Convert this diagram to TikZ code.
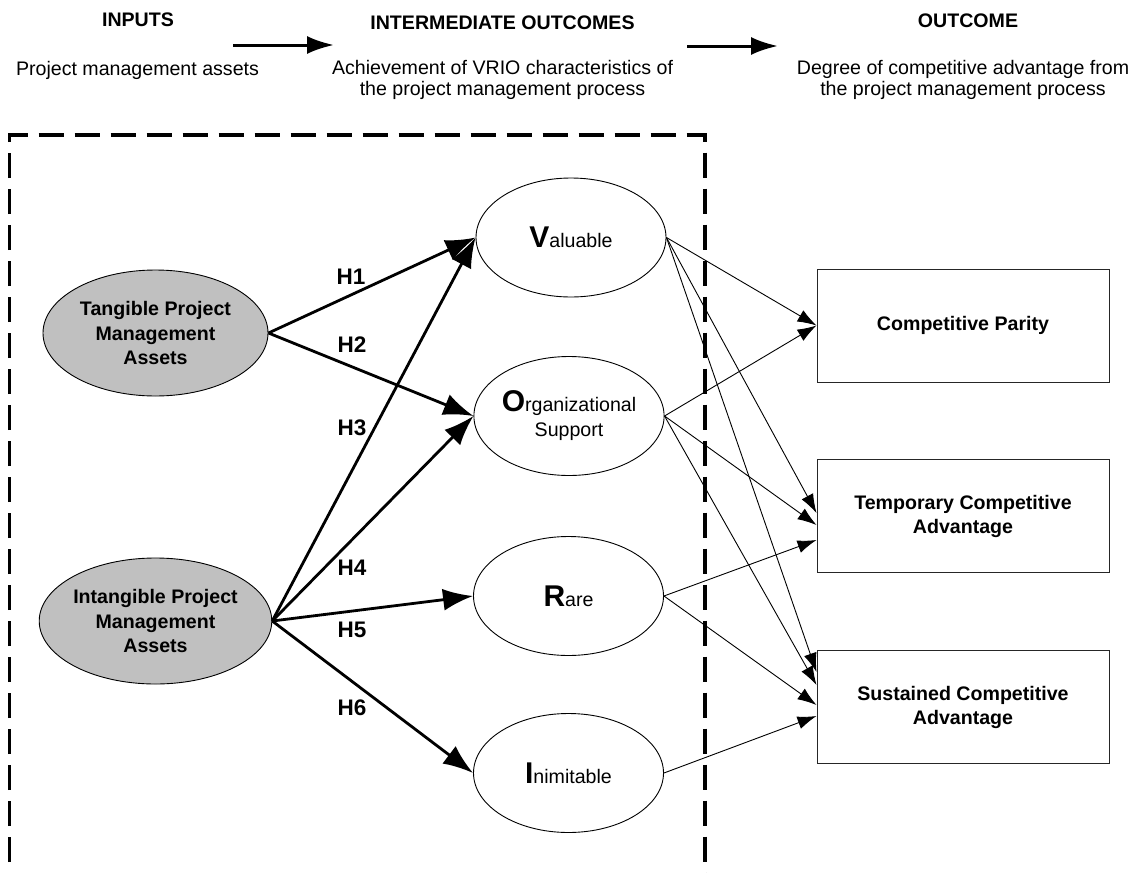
\documentclass[tikz,border=0pt]{standalone}
\usepackage{fontspec}
\setmainfont{Liberation Sans}
\usetikzlibrary{arrows.meta,shapes.geometric}
\definecolor{assetgray}{HTML}{C0C0C0}
\newcommand{\vrioletter}[1]{{\bfseries\fontsize{30}{30}\selectfont #1}}
\tikzset{
  txt/.style={inner sep=0pt, align=center, font=\fontsize{19.6}{21}\selectfont},
  headtxt/.style={inner sep=0pt, font=\bfseries\fontsize{19.6}{24}\selectfont},
  assetell/.style={ellipse, draw, line width=0.9pt, fill=assetgray, minimum width=225pt, minimum height=126pt, inner sep=0pt, align=center, font=\bfseries\fontsize{19.6}{24.5}\selectfont},
  vrio/.style={ellipse, draw, line width=0.9pt, minimum width=190pt, minimum height=119pt, inner sep=0pt, align=center, font=\fontsize{19.6}{25}\selectfont},
  outbox/.style={rectangle, draw=black!85, line width=1pt, minimum width=292pt, minimum height=113pt, inner sep=0pt, align=center, font=\bfseries\fontsize{19.6}{24}\selectfont},
  hyp/.style={-{Latex[length=30pt,width=22pt]}, line width=2.8pt},
  link/.style={-{Latex[length=19pt,width=13pt]}, line width=0.9pt},
  flow/.style={-{Latex[length=27pt,width=18pt]}, line width=3pt},
  hlabel/.style={inner sep=0pt, font=\bfseries\fontsize{22.5}{26}\selectfont},
  frameline/.style={line width=3.5pt, dash pattern=on 25pt off 11pt}
}
\begin{document}
\begin{tikzpicture}[x=1pt,y=-1pt]
\useasboundingbox (0,0) rectangle (1141,873);

% headers
\node[headtxt] (hin) at (138,20) {INPUTS};
\node[headtxt] (hmid) at (502.5,23) {INTERMEDIATE OUTCOMES};
\node[headtxt] (hout) at (968,21) {OUTCOME};
\node[txt] (tin) at (137.5,70) {Project management assets};
\node[txt] (tmid) at (502.5,80) {Achievement of VRIO characteristics of\\the project management process};
\node[txt] (tout) at (963,80) {Degree of competitive advantage from\\the project management process};
\coordinate (f1s) at (233,45);
\coordinate (f1e) at (334,45);
\coordinate (f2s) at (687,46);
\coordinate (f2e) at (778,46);
\draw[flow] (f1s) -- (f1e);
\draw[flow] (f2s) -- (f2e);

% dashed frame
\coordinate (fa) at (9.5,862);
\coordinate (fb) at (9.5,135);
\coordinate (fc) at (705,135);
\coordinate (fd) at (705,875);
\draw[frameline] (fa) -- (fb) -- (fc) -- (fd);

% asset ellipses
\node[assetell] (T) at (155.5,333) {Tangible Project\\Management\\Assets};
\node[assetell] (N) at (155.5,621) {Intangible Project\\Management\\Assets};

% VRIO ellipses
\node[vrio] (V) at (571,237.5) {\vrioletter{V}aluable};
\node[vrio] (O) at (569,416) {\vrioletter{O}rganizational\\Support};
\node[vrio] (R) at (568.5,596) {\vrioletter{R}are};
\node[vrio] (I) at (568.5,773) {\vrioletter{I}nimitable};

% outcome boxes
\node[outbox] (P) at (963,325.5) {Competitive Parity};
\node[outbox] (Tm) at (963,516) {Temporary Competitive\\Advantage};
\node[outbox] (S) at (963,707) {Sustained Competitive\\Advantage};

% hypotheses
\draw[hyp] (T.east) -- (V.west);
\draw[hyp] (T.east) -- (O.west);
\draw[hyp] (N.east) -- (V.west);
\draw[hyp] (N.east) -- (O.west);
\draw[hyp] (N.east) -- (R.west);
\draw[hyp] (N.east) -- (I.west);
\node[hlabel] (h1) at (351,277) {H1};
\node[hlabel] (h2) at (352,345) {H2};
\node[hlabel] (h3) at (352,428) {H3};
\node[hlabel] (h4) at (352,568) {H4};
\node[hlabel] (h5) at (352,630) {H5};
\node[hlabel] (h6) at (352,708) {H6};

% links to outcomes
\draw[link] (V.east) -- (P.west);
\draw[link] (V.east) -- ([yshift=3pt]Tm.west);
\draw[link] (V.east) -- ([yshift=35pt]S.west);
\draw[link] (O.east) -- (P.west);
\draw[link] (O.east) -- ([yshift=-9pt]Tm.west);
\draw[link] (O.east) -- ([yshift=22pt]S.west);
\draw[link] (R.east) -- ([yshift=-24pt]Tm.west);
\draw[link] (R.east) -- ([yshift=2pt]S.west);
\draw[link] (I.east) -- ([yshift=-9pt]S.west);
\end{tikzpicture}
\end{document}
